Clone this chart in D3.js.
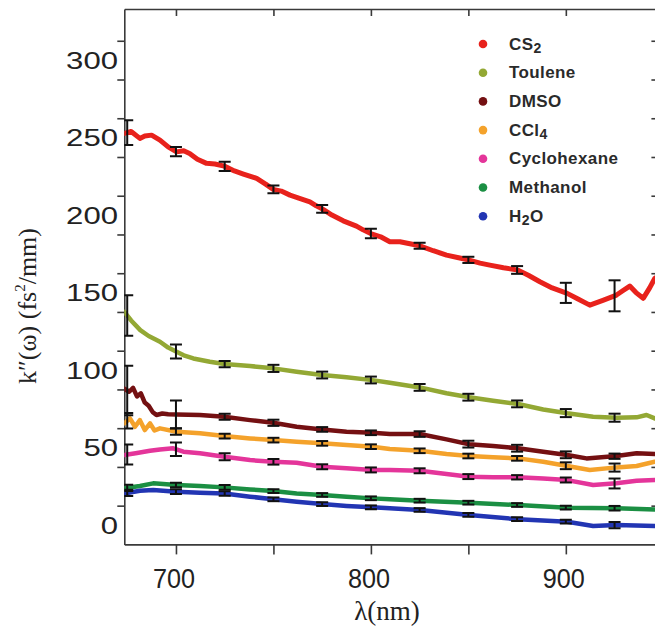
<!DOCTYPE html>
<html><head><meta charset="utf-8">
<script src="https://cdn.jsdelivr.net/npm/d3@7"></script>
<style>html,body{margin:0;padding:0;background:#fff;}svg{display:block;}</style>
</head><body>
<svg id="chart" width="655" height="630"></svg>
<script>
// ---- data (wavelength nm, k'' fs^2/mm) ----
const seriesNames = ["CS2","Toulene","DMSO","CCl4","Cyclohexane","Methanol","H2O"];
const seriesColors = ["#e8221c","#93a834","#741012","#f4a22b","#e4359a","#1b8f43","#2235b3"];
const errLambda = [675,700,725,750,775,800,825,850,875,900,925];

const cs2 = [[673.5,252.7],[677,254],[681.5,249.5],[684,251],[687.5,251.6],[691.8,248.4],[696,244],[700.3,240.8],[704,241.5],[707,239.8],[711,236],[715.7,233.4],[720,233],[724.8,231.6],[730,228.5],[734.6,226.5],[741.4,223.7],[746,220],[749.9,216.6],[754,215.5],[758.5,212.9],[763,211],[768.7,208.6],[772,206],[775.5,203.7],[780,200],[785.8,196.3],[792.6,192.9],[796,190.5],[800.7,187.7],[805,186],[809.7,182.8],[814.9,182.8],[820,181.5],[825.1,180.2],[832,177],[838.8,174.2],[845,172.5],[850.4,171],[856,169],[861,167.7],[868,166],[875.5,164.5],[881,161],[886.7,157],[893,153],[900.7,149.5],[906,146],[912.3,141.9],[919,145],[926,148.4],[929,151],[932.8,154.2],[936,150],[939.7,146.3],[943,153],[945.6,159.2],[948,161]];
const toulene = [[673.5,137.6],[677,132],[681.7,125.8],[686,122],[691.8,118.3],[696,114.5],[700.3,111.8],[704,109.5],[708.9,107.5],[717.4,105.4],[724.8,103.9],[738,102.6],[749.9,101.1],[761.9,98.9],[775,96.8],[787.5,95.3],[800.7,93.5],[809.7,91.8],[825.1,88.8],[838.8,85],[850.4,82.4],[862.7,80.2],[875.5,78.1],[888.4,74.6],[900.7,72.1],[914,69.9],[926,69.2],[936.3,69.5],[941.4,71],[945.6,68.8],[948,69.5]];
const dmso = [[673.5,88],[676,86],[678,88.5],[680,83],[682,85],[684,79],[686,77],[688,73],[690,71],[693,72],[696,71.5],[700.3,71.4],[712.3,71],[724.8,69.9],[738,67.7],[749.9,66],[761.9,63.4],[775,61.7],[787.5,60.2],[800.7,59.5],[809.7,58.7],[825.1,58.7],[838.8,55.3],[850.4,52.1],[862.7,51],[875.5,49.5],[888.4,47.3],[900.7,45.2],[910.6,43],[926,44.5],[936.3,46.3],[945.6,45.8],[948,46]];
const ccl4 = [[673.5,65.6],[676.4,68.8],[679,63.4],[681.5,67.7],[684,61.3],[686.7,65.6],[689,61],[691.8,62.4],[700.3,60.2],[712.3,59.2],[724.8,57.4],[738,55.9],[749.9,54.8],[761.9,53.8],[775,52.7],[787.5,51.6],[800.7,50.5],[809.7,49],[825.1,47.9],[838.8,45.8],[850.4,44.5],[862.7,43.7],[875.5,43],[888.4,40.8],[900.7,38.1],[912.3,35.5],[926,37.2],[936.3,38.1],[945.6,40.8],[948,41.5]];
const cyclohexane = [[673.5,45.2],[679.3,46.3],[686.7,47.9],[691.8,48.8],[698.6,49.5],[703.8,47.3],[712.3,46.3],[724.8,44.1],[738,41.9],[749.9,40.8],[761.9,40.2],[775,37.6],[787.5,36.6],[800.7,35.5],[809.7,35.5],[825.1,35],[838.8,32.9],[850.4,31.2],[862.7,30.8],[875.5,30.8],[888.4,30.1],[900.7,29],[914,25.8],[926,26.9],[936.3,28.6],[945.6,29],[948,29]];
const methanol = [[673.5,23.7],[681.5,25.2],[688.3,26.9],[700.3,25.8],[712.3,25.2],[724.8,24.3],[738,23],[749.9,21.9],[761.9,20.4],[775,19.4],[787.5,18.3],[800.7,17.2],[809.7,16.6],[825.1,15.7],[850.4,14.4],[875.5,12.9],[900.7,11.2],[926,10.8],[945.6,10.1],[948,10]];
const h2o = [[673.5,20.4],[681.5,22.1],[688.3,22.6],[700.3,21.5],[712.3,20.8],[724.8,20.4],[738,18.3],[749.9,16.6],[761.9,15],[775,13.5],[787.5,12.3],[800.7,11.4],[809.7,10.8],[825.1,9.7],[850.4,6.5],[875.5,3.7],[900.7,2.1],[914,-0.6],[926,0],[945.6,-0.6],[948,-0.5]];

const errCS2 = [8,3,3,2.5,2.5,3,2,2,2.5,6.5,10];
const errToulene = [13,4.5,2,2.3,2.2,2.2,2.2,2.2,2.2,2.6,2.6];
const errDMSO = [16,9,2,2,1.5,1.5,1.8,2.2,2.2,2.2,1.7];
const errCCl4 = [5,2,1.5,1.5,1.5,1.5,1.5,1.5,1.5,2.2,2.6];
const errCyclohexane = [6.5,4.3,2.2,1.8,1.6,1.6,1.6,1.6,1.4,1.6,3.2];
const errMethanol = [2,1.5,1.5,1.2,1.2,1.2,1.2,1.2,1.2,1.2,1.5];
const errH2O = [2,1.5,1.5,1.2,1.2,1.2,1.2,1.2,1.2,1.2,2];

const xTicks = [700,750,800,850,900];
const xTickLabels = [700,800,900];
const yTickLabels = [0,50,100,150,200,250,300];
const yTickMarks = [12.5,37.5,62.5,87.5,112.5,137.5,162.5,187.5,212.5,237.5,262.5,287.5,312.5];

const allSeries = [cs2,toulene,dmso,ccl4,cyclohexane,methanol,h2o];
const allErr = [errCS2,errToulene,errDMSO,errCCl4,errCyclohexane,errMethanol,errH2O];

// ---- layout ----
const svg = d3.select("#chart");
const L = 124.3, R = 659.4, T = 9, B = 544.4;
const x = d3.scaleLinear().domain([673.5, 948]).range([L, R]);
const y = d3.scaleLinear().domain([-12.5, 333]).range([B, T]);
const axisColor = "#3a3a3a";

svg.append("defs").append("clipPath").attr("id","plotclip")
  .append("rect").attr("x",L).attr("y",T).attr("width",R-L).attr("height",B-T);

// axes
function styleAxis(g){
  g.select(".domain").attr("stroke",axisColor).attr("stroke-width",1.6);
  g.selectAll(".tick line").attr("stroke",axisColor).attr("stroke-width",1.6);
  g.selectAll(".tick text").remove();
}
svg.append("g").attr("transform",`translate(0,${B})`)
  .call(d3.axisBottom(x).tickValues(xTicks).tickSize(10).tickSizeOuter(0)).call(styleAxis);
svg.append("g").attr("transform",`translate(0,${T})`)
  .call(d3.axisBottom(x).tickValues(xTicks).tickSize(7).tickSizeOuter(0)).call(styleAxis);
svg.append("g").attr("transform",`translate(${L},0)`)
  .call(d3.axisLeft(y).tickValues(yTickMarks).tickSize(7).tickSizeOuter(0)).call(styleAxis);
svg.append("g").attr("transform",`translate(${R},0)`)
  .call(d3.axisLeft(y).tickValues(yTickMarks).tickSize(8).tickSizeOuter(0)).call(styleAxis);

// tick labels
svg.append("g").selectAll("text").data(xTickLabels).join("text")
  .attr("x", d => x(d) - 2).attr("y", 578)
  .attr("text-anchor","middle").attr("dominant-baseline","central")
  .attr("font-family","Liberation Sans, Arial, sans-serif").attr("font-size",28)
  .attr("textLength",42).attr("lengthAdjust","spacingAndGlyphs")
  .attr("fill","#222").text(d => d);
svg.append("g").selectAll("text").data(yTickLabels).join("text")
  .attr("x", 118).attr("y", d => y(d))
  .attr("text-anchor","end").attr("dominant-baseline","central")
  .attr("font-family","Liberation Sans, Arial, sans-serif").attr("font-size",24)
  .attr("textLength", d => String(d).length*17.3).attr("lengthAdjust","spacingAndGlyphs")
  .attr("fill","#222").text(d => d);

// axis titles
svg.append("text").attr("x",387).attr("y",620).attr("text-anchor","middle")
  .attr("font-family","Liberation Serif, Times New Roman, serif").attr("font-size",27)
  .attr("fill","#222").text("λ(nm)");
const yt = svg.append("text").attr("transform","translate(36,306) rotate(-90)")
  .attr("text-anchor","middle")
  .attr("font-family","Liberation Serif, Times New Roman, serif").attr("font-size",26)
  .attr("fill","#222");
yt.append("tspan").text("k\u2033(\u03c9) (fs");
yt.append("tspan").attr("font-size",15).attr("dy",-11).text("2");
yt.append("tspan").attr("dy",11).text("/mm)");

// lines
const plot = svg.append("g").attr("clip-path","url(#plotclip)");
const line = d3.line().x(d => x(d[0])).y(d => y(d[1]));
allSeries.forEach((s,i) => {
  plot.append("path").datum(s).attr("d",line)
    .attr("fill","none").attr("stroke",seriesColors[i])
    .attr("stroke-width", i===0 ? 5 : 4.5).attr("stroke-linejoin","round").attr("stroke-linecap","round");
});

// error bars (centred on the series curve)
function valueAt(s, lam){
  for (let k=0;k<s.length-1;k++){
    if (lam>=s[k][0] && lam<=s[k+1][0]){
      const t=(lam-s[k][0])/(s[k+1][0]-s[k][0]);
      return s[k][1]+t*(s[k+1][1]-s[k][1]);
    }
  }
  return s[0][1];
}
const eg = plot.append("g").attr("stroke","#111").attr("stroke-width",2);
allSeries.forEach((s,i) => {
  errLambda.forEach((lam,j) => {
    const c = valueAt(s,lam), e = allErr[i][j];
    const xx = x(lam), y1 = y(c+e), y2 = y(c-e);
    eg.append("line").attr("x1",xx).attr("x2",xx).attr("y1",y1).attr("y2",y2);
    eg.append("line").attr("x1",xx-6).attr("x2",xx+6).attr("y1",y1).attr("y2",y1);
    eg.append("line").attr("x1",xx-6).attr("x2",xx+6).attr("y1",y2).attr("y2",y2);
  });
});

// legend
const leg = svg.append("g");
const legY0 = 44, legDy = 28.7;
seriesNames.forEach((n,i) => {
  const g = leg.append("g").attr("transform",`translate(0,${legY0 + i*legDy})`);
  g.append("circle").attr("cx",483).attr("cy",0).attr("r",4.3).attr("fill",seriesColors[i]);
  const t = g.append("text").attr("x",509).attr("y",0).attr("dominant-baseline","central")
    .attr("font-family","Liberation Sans, Arial, sans-serif").attr("font-weight","bold")
    .attr("font-size",17).attr("fill","#2a2a2a").attr("letter-spacing",0.4);
  const m = n.match(/^([A-Za-z]+?)(\d)(.*)$/);
  if (m && (n==="CS2"||n==="CCl4"||n==="H2O")) {
    t.append("tspan").text(m[1]);
    t.append("tspan").attr("dy",4).attr("font-size",14).text(m[2]);
    if (m[3]) t.append("tspan").attr("dy",-4).text(m[3]);
  } else {
    t.text(n);
  }
});
</script>
</body></html>
